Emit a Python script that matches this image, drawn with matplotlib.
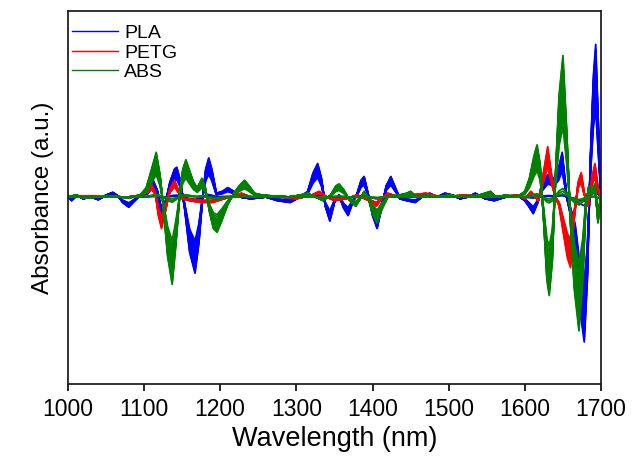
import numpy as np
from matplotlib import pyplot as plt

plt.rcParams['font.family'] = ['Liberation Sans', 'DejaVu Sans']

# ---------------------------------------------------------------------------
# Spectres (enveloppe extérieure)
# ---------------------------------------------------------------------------
pla_wl = [1000, 1005, 1012, 1020, 1030, 1040, 1050, 1059, 1066, 1072, 1080, 1088, 1095,
          1105, 1112, 1118, 1123, 1128, 1134, 1140, 1143, 1147, 1153, 1160, 1167, 1172,
          1177, 1181, 1185, 1189, 1195, 1203, 1210, 1218, 1226, 1240, 1260, 1275, 1292,
          1305, 1315, 1322, 1328, 1333, 1338, 1344, 1350, 1356, 1362, 1368, 1374, 1380,
          1385, 1389, 1394, 1400, 1406, 1412, 1418, 1424, 1430, 1436, 1445, 1456, 1465,
          1475, 1485, 1495, 1505, 1515, 1525, 1535, 1548, 1560, 1575, 1590, 1600, 1605,
          1611, 1617, 1622, 1630, 1638, 1644, 1649, 1655, 1660, 1666, 1672, 1678, 1682,
          1686, 1690, 1693, 1696, 1700]
pla_abs = [0.0, -0.02, 0.01, -0.01, 0.0, -0.015, 0.01, 0.025, 0.005, -0.03, -0.055, -0.02, 0.01,
           0.03, 0.09, 0.03, -0.10, -0.04, 0.08, 0.15, 0.16, 0.10, -0.05, -0.30, -0.41, -0.25,
           0.0, 0.15, 0.21, 0.15, 0.02, 0.03, 0.05, 0.03, 0.0, -0.01, 0.0, -0.02, -0.03,
           0.0, 0.03, 0.13, 0.18, 0.10, -0.05, -0.13, -0.03, 0.01, -0.06, -0.10, -0.03, 0.02,
           0.09, 0.11, 0.02, -0.10, -0.17, -0.06, 0.06, 0.11, 0.05, -0.01, -0.02, -0.03, 0.0,
           0.02, 0.0, 0.02, 0.01, -0.01, 0.0, 0.02, -0.01, -0.02, 0.0, 0.01, -0.02, -0.05,
           -0.09, -0.03, 0.05, 0.12, 0.10, 0.15, 0.24, 0.0, -0.10, -0.25, -0.60, -0.78, -0.45,
           0.20, 0.65, 0.82, 0.45, 0.0]

petg_wl = [1000, 1020, 1050, 1080, 1095, 1105, 1110, 1115, 1119, 1123, 1128, 1134, 1140,
           1145, 1150, 1160, 1175, 1190, 1205, 1220, 1228, 1240, 1280, 1300, 1320, 1330,
           1340, 1350, 1365, 1380, 1395, 1405, 1412, 1420, 1435, 1450, 1470, 1490, 1520,
           1560, 1590, 1600, 1608, 1612, 1618, 1624, 1630, 1635, 1640, 1645, 1650, 1656,
           1660, 1664, 1670, 1674, 1678, 1683, 1688, 1692, 1696, 1700]
petg_abs = [0.0, 0.005, 0.0, 0.0, 0.01, 0.04, 0.07, 0.02, -0.10, -0.17, -0.08, 0.04, 0.09,
            0.04, -0.01, -0.02, -0.03, -0.03, -0.01, 0.01, 0.02, 0.0, 0.0, -0.01, 0.01, 0.03,
            0.0, -0.02, -0.01, 0.01, -0.02, -0.05, -0.01, 0.02, 0.0, 0.01, 0.02, 0.0, 0.01,
            0.0, 0.01, -0.01, 0.03, 0.01, -0.02, 0.12, 0.27, 0.12, 0.0, -0.05, -0.18, -0.33,
            -0.38, -0.15, 0.08, 0.13, 0.02, -0.05, 0.10, 0.18, 0.05, 0.0]

abs_wl = [1000, 1010, 1020, 1040, 1060, 1080, 1095, 1103, 1110, 1116, 1121, 1126, 1131,
          1137, 1142, 1147, 1151, 1155, 1160, 1165, 1170, 1176, 1180, 1186, 1191, 1196,
          1202, 1210, 1218, 1225, 1232, 1238, 1245, 1255, 1270, 1290, 1305, 1315, 1325,
          1335, 1345, 1352, 1356, 1362, 1370, 1378, 1384, 1389, 1394, 1400, 1406, 1412,
          1420, 1435, 1445, 1450, 1458, 1470, 1485, 1500, 1520, 1540, 1555, 1562, 1575,
          1590, 1600, 1606, 1612, 1616, 1620, 1625, 1629, 1632, 1636, 1640, 1645, 1650,
          1655, 1660, 1665, 1671, 1676, 1680, 1684, 1688, 1692, 1696, 1700]
abs_abs = [0.0, 0.01, -0.005, 0.0, 0.005, -0.005, 0.01, 0.05, 0.15, 0.24, 0.12, -0.08, -0.32,
           -0.47, -0.25, 0.02, 0.15, 0.20, 0.14, 0.08, 0.05, 0.10, 0.06, -0.08, -0.17, -0.19,
           -0.13, -0.04, 0.02, 0.06, 0.09, 0.06, 0.02, 0.01, 0.005, 0.0, 0.01, 0.02, 0.0,
           -0.02, 0.01, 0.06, 0.07, 0.04, -0.02, -0.05, -0.01, 0.03, 0.0, -0.09, -0.14, -0.07,
           0.0, 0.01, 0.02, 0.03, 0.0, 0.01, 0.0, 0.01, 0.0, 0.01, 0.03, 0.0, 0.01,
           0.0, 0.03, 0.10, 0.22, 0.28, 0.18, -0.15, -0.45, -0.53, -0.35, 0.10, 0.55, 0.76,
           0.35, -0.15, -0.50, -0.72, -0.45, -0.05, 0.06, 0.03, 0.07, -0.14, 0.0]

pla_rep = [1.0, 0.97, 0.94, 0.91, 0.88, 0.85, 0.82, 0.79, 0.76, 0.73, 0.70, 0.66, 0.62, 0.58,
           0.06, 0.03]
petg_rep = [1.0, 0.96, 0.92, 0.88, 0.84, 0.80, 0.76, 0.72, 0.68, 0.64, 0.60]
abs_rep = [1.0, 0.97, 0.94, 0.91, 0.88, 0.85, 0.82, 0.79, 0.76, 0.73, 0.70, 0.66, 0.62, 0.56,
           0.50, 0.06, 0.04, 0.02]

series = [('PLA', pla_wl, pla_abs, pla_rep, '#0000ff'),
          ('PETG', petg_wl, petg_abs, petg_rep, '#ff0000'),
          ('ABS', abs_wl, abs_abs, abs_rep, '#008000')]

##############################################################################
# Graphique
fig = plt.figure(figsize=(6.34, 4.57), dpi=100)
ax = fig.add_axes([0.107, 0.160, 0.841, 0.816])

for nom, wl, ab, reps, coul in series:
    ab = np.array(ab)
    for k, s in enumerate(reps):
        ax.plot(wl, ab * s, '-', color=coul, lw=1.3,
                label=nom if k == 0 else None)

ax.set_xlim(1000, 1700)
ax.set_ylim(-1.005, 1.0)
ax.set_xticks(range(1000, 1701, 100))
ax.set_yticks([])
ax.tick_params(axis='x', direction='out', length=5, width=1.2, labelsize=16.5, pad=5)
for sp in ax.spines.values():
    sp.set_linewidth(1.3)
    sp.set_color('#222222')

ax.set_xlabel('Wavelength (nm)', fontsize=19.5, labelpad=4)
ax.set_ylabel('Absorbance (a.u.)', fontsize=17.5, labelpad=10)

leg = ax.legend(loc='upper left', frameon=False, fontsize=14, handlelength=2.4,
                handletextpad=0.3, labelspacing=0.1, borderaxespad=0.2,
                bbox_to_anchor=(-0.015, 0.995))
for h in leg.get_lines():
    h.set_linewidth(1.0)

fig.savefig('out.png', dpi=100)
